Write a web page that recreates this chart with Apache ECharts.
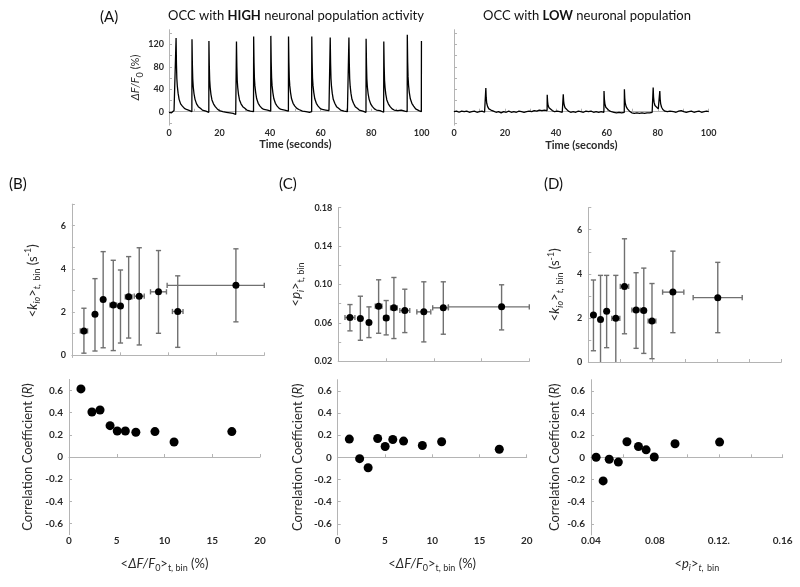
<!DOCTYPE html>
<html>
<head>
<meta charset="utf-8">
<script src="https://cdn.jsdelivr.net/npm/echarts@6/dist/echarts.min.js"></script>
<style>html,body{margin:0;padding:0;background:#fff;}#main{width:800px;height:587px;}</style>
</head>
<body>
<div id="main"></div>
<script>
// ---------------- DATA ----------------
// Panel A: calcium traces [time (s), dF/F0 (%)]
const traceHigh = [
[0,-1],[0.5,1],[1,-2],[1.5,0],[2,2],[2.4,-1],
[2.75,0],[2.8,131],[2.95,85],[3.1,59],[3.3,45],[3.6,33],[4.0,22],[4.6,14],[5.3,10],[6.1,6],[6.9,4],[7.6,5],[8.2,2],[8.7,3],
[9.05,0],[9.1,129],[9.25,84],[9.4,58],[9.6,44],[9.9,32],[10.3,22],[10.9,14],[11.6,9],[12.4,6],[13.2,3],[13.9,4],[14.6,1],[15.2,2],
[15.75,-1],[15.8,126],[15.95,82],[16.1,57],[16.3,43],[16.6,31],[17.0,21],[17.6,14],[18.3,9],[19.1,5],[19.9,2],[20.6,3],[21.3,0],[22.0,2],[22.7,-1],[23.4,1],[24.1,-2],[24.8,0],[25.4,-3],[26.0,-1],[26.4,-5],
[26.65,-2],[26.7,125],[26.85,81],[27.0,56],[27.2,43],[27.5,31],[27.9,21],[28.5,14],[29.2,9],[30.0,6],[30.8,3],[31.5,4],[32.2,1],[32.9,2],
[33.45,0],[33.5,134],[33.65,87],[33.8,60],[34.0,46],[34.3,34],[34.7,23],[35.3,15],[36.0,10],[36.8,6],[37.6,4],[38.3,2],[39.0,3],[39.7,0],
[40.25,1],[40.3,135],[40.45,88],[40.6,61],[40.8,46],[41.1,34],[41.5,23],[42.1,15],[42.8,10],[43.6,6],[44.4,4],[45.1,2],[45.8,3],[46.5,0],
[47.25,1],[47.3,134],[47.45,87],[47.6,60],[47.8,46],[48.1,34],[48.5,23],[49.1,15],[49.8,10],[50.6,6],[51.4,4],[52.1,3],[52.8,1],[53.5,2],[54.2,0],[54.9,2],[55.6,-1],[56.2,1],
[56.45,0],[56.5,134],[56.65,87],[56.8,60],[57.0,46],[57.3,34],[57.7,23],[58.3,15],[59.0,10],[59.8,6],[60.6,4],[61.3,2],[62.0,3],[62.7,0],[63.3,2],
[63.75,-1],[63.8,132],[63.95,86],[64.1,59],[64.3,45],[64.6,33],[65.0,22],[65.6,15],[66.3,9],[67.1,6],[67.9,3],[68.6,4],[69.3,1],[70.0,2],[70.6,0],
[71.15,1],[71.2,132],[71.35,86],[71.5,59],[71.7,45],[72.0,33],[72.4,22],[73.0,15],[73.7,9],[74.5,6],[75.3,3],[76.0,4],[76.7,1],[77.4,0],
[77.95,-1],[78.0,130],[78.15,85],[78.3,58],[78.5,44],[78.8,32],[79.2,22],[79.8,14],[80.5,9],[81.3,5],[82.1,3],[82.8,1],[83.5,2],[84.2,0],
[84.95,-1],[85.0,125],[85.15,81],[85.3,56],[85.5,43],[85.8,31],[86.2,21],[86.8,14],[87.5,9],[88.3,5],[89.1,3],[89.8,1],[90.5,2],[91.2,0],[91.9,3],[92.6,0],[93.3,1],[93.9,-1],
[94.25,0],[94.3,137],[94.45,89],[94.6,62],[94.8,47],[95.1,34],[95.5,23],[96.1,15],[96.8,10],[97.6,5],[98.3,3],[98.9,2],[99.4,1],[99.85,0],
[99.9,126]
];
const traceLow = [
[0,0],[1,1],[2,-1],[3,1],[4,0],[5,1],[6,-1],[7,0],[8,1],[9,-1],[10,0],[11,1],[12,-1],
[12.45,0],[12.5,42],[12.65,25],[12.85,15],[13.2,9],[13.7,5],[14.5,3],[15.5,1],[16.5,-1],[17.5,0],[18.5,-2],[19.5,0],[20.5,-1],[21.5,1],[22.5,-1],[23.5,0],[24.5,-1],[25.5,1],[26.5,0],[27.5,-1],[28.5,0],[29.5,1],[30.5,0],[31.5,2],[32.5,1],[33.5,3],[34.5,2],[35.5,3],
[36.55,2],[36.6,30],[36.75,18],[36.95,11],[37.3,7],[37.8,4],[38.6,2],[39.5,0],[40.5,1],[41.5,0],[42.5,-1],
[42.85,0],[42.9,31],[43.05,19],[43.25,12],[43.6,7],[44.1,4],[44.9,1],[45.8,-1],[46.8,0],[47.8,-1],[48.8,1],[49.8,0],[50.8,-1],[51.8,1],[52.8,0],[53.8,1],[54.8,-1],[55.8,0],[56.8,-1],[57.8,0],
[58.85,-1],[58.9,37],[59.05,22],[59.25,14],[59.6,8],[60.1,5],[60.9,2],[61.8,0],[62.8,-1],[63.8,-2],[64.8,-1],[65.8,-2],
[66.85,-1],[66.9,40],[67.05,24],[67.25,15],[67.6,9],[68.1,5],[68.9,1],[69.8,-2],[70.8,-3],[71.8,-2],[72.8,-3],[73.8,-2],[74.8,-3],[75.8,-2],[76.8,-2],[77.8,-1],
[78.15,-1],[78.2,43],[78.35,26],[78.55,17],[78.9,11],[79.4,8],[80.2,5],
[80.75,5],[80.8,37],[80.95,22],[81.15,14],[81.5,8],[82.0,4],[82.8,1],[83.8,0],[84.8,1],[85.5,4],[86.2,0],[87.2,-1],[88.2,1],[89.2,2],[90.2,0],[91.2,-1],[92.2,0],[93.2,1],[94.2,-1],[95.2,0],[96.2,1],[97.2,-1],[98.2,0],[99.2,1],[100,0]
];

// Panel B: x = <dF/F0> (%), k_io (s^-1), R
const bX    = [1.25, 2.4, 3.25, 4.3, 5.05, 5.9, 7.0, 9.0, 11.0, 17.05];
const bXlo  = [0.87, 2.4, 3.25, 3.95, 5.05, 5.55, 6.48, 8.17, 10.45, 9.9];
const bXhi  = [1.63, 2.4, 3.25, 4.65, 5.05, 6.25, 7.52, 9.83, 11.55, 20];
const bK    = [1.13, 1.9, 2.58, 2.33, 2.28, 2.71, 2.74, 2.94, 2.03, 3.24];
const bKlo  = [0.1, 0.2, 0.35, 0.22, 0.57, 0.8, 0.48, 1.02, 0.37, 1.55];
const bKhi  = [2.18, 3.55, 4.8, 4.4, 3.95, 4.57, 4.98, 4.85, 3.68, 4.93];
const bR    = [0.614, 0.406, 0.424, 0.283, 0.235, 0.235, 0.223, 0.229, 0.135, 0.229];

// Panel C: x = <dF/F0> (%), p_i, R
const cX    = [1.23, 2.32, 3.22, 4.23, 5.02, 5.83, 6.97, 8.96, 11.0, 17.1];
const cXlo  = [0.71, 2.32, 3.22, 3.88, 4.76, 5.48, 6.45, 8.23, 9.89, 11.53];
const cXhi  = [1.75, 2.32, 3.22, 4.58, 5.28, 6.18, 7.49, 9.69, 11.53, 20];
const cP    = [0.0656, 0.0645, 0.0603, 0.0774, 0.0652, 0.0757, 0.0729, 0.0715, 0.0757, 0.0767];
const cPlo  = [0.0517, 0.0419, 0.0447, 0.0492, 0.0475, 0.0437, 0.0499, 0.0402, 0.0482, 0.0527];
const cPhi  = [0.0791, 0.0878, 0.0767, 0.1049, 0.0833, 0.1073, 0.0951, 0.1028, 0.1028, 0.0997];
const cR    = [0.164, -0.012, -0.094, 0.170, 0.097, 0.161, 0.146, 0.106, 0.140, 0.073];

// Panel D: x = <p_i>, k_io (s^-1), R
const dX    = [0.0432, 0.0476, 0.0514, 0.0571, 0.0625, 0.0697, 0.0745, 0.0796, 0.0926, 0.1205];
const dXlo  = [0.0432, 0.0476, 0.0514, 0.0546, 0.0599, 0.0671, 0.0745, 0.0772, 0.0862, 0.1052];
const dXhi  = [0.0432, 0.0476, 0.0514, 0.0596, 0.0651, 0.0723, 0.0745, 0.0820, 0.0994, 0.1357];
const dK    = [2.13, 1.93, 2.30, 1.98, 3.43, 2.36, 2.34, 1.86, 3.17, 2.92];
const dKlo  = [0.51, -0.1, 0.65, -0.1, 1.28, 0.62, 0.39, 0.15, 1.33, 1.33];
const dKhi  = [3.72, 3.93, 3.93, 3.93, 5.59, 4.05, 4.26, 3.56, 5.03, 4.52];
const dR    = [0.0, -0.213, -0.018, -0.043, 0.140, 0.097, 0.067, 0.003, 0.122, 0.137];

// Tick labels
const traceYLabels = [0, 40, 80, 120];
const traceXLabels = [0, 20, 40, 60, 80, 100];
const kLabels = [0, 2, 4, 6];
const pLabels = [0.02, 0.06, 0.10, 0.14, 0.18];
const rLabels = [-0.6, -0.4, -0.2, 0, 0.2, 0.4, 0.6];
const fLabels = [0, 5, 10, 15, 20];
const piLabelValues = [0.04, 0.08, 0.12, 0.16];
const piLabelTexts  = ['0.04', '0.08', '0.12.', '0.16'];

// ---------------- CHART ----------------
const FONT = 'Lato, "Open Sans", sans-serif';
const AX = '#b4b4b4';
const TXT = '#2a2a2a';
const chart = echarts.init(document.getElementById('main'));

const rich = {
  i:   {fontStyle: 'italic', fontSize: 13, fontFamily: FONT, color: TXT, lineHeight: 18},
  sub: {fontSize: 9, fontFamily: FONT, color: TXT, verticalAlign: 'bottom', lineHeight: 10},
  isub:{fontSize: 9, fontStyle: 'italic', fontFamily: FONT, color: TXT, verticalAlign: 'bottom', lineHeight: 10},
  sup: {fontSize: 9, fontFamily: FONT, color: TXT, verticalAlign: 'top', lineHeight: 10}
};
function nameStyle(size, extra) {
  const r = JSON.parse(JSON.stringify(rich));
  r.i.fontSize = size;
  return Object.assign({fontSize: size, fontFamily: FONT, color: TXT, lineHeight: 18, rich: r}, extra || {});
}

const grids = [
  {left: 169, top: 29.7, width: 252.7, height: 95.5},   // A left
  {left: 454, top: 29.7, width: 254.7, height: 95.5},   // A right
  {left: 71.9, top: 204.1, width: 192.4, height: 153.4},// B top
  {left: 69, top: 379.4, width: 191, height: 155.2},    // B bottom
  {left: 338.2, top: 207.7, width: 191.1, height: 153.6},// C top
  {left: 337.7, top: 379.7, width: 189, height: 155.2}, // C bottom
  {left: 588.3, top: 207.7, width: 193, height: 154.3}, // D top
  {left: 591, top: 379.7, width: 191.7, height: 155.2}  // D bottom
].map(g => Object.assign({outerBoundsMode: 'none', containLabel: false}, g));

function rng(a, b, s) { const out = []; for (let v = a; v <= b + 1e-9; v += s) out.push(+v.toFixed(6)); return out; }

function axis(o) {
  return {
    type: 'value', gridIndex: o.grid, min: o.min, max: o.max,
    name: o.name || '', nameLocation: 'middle', nameGap: o.nameGap || 20,
    nameTextStyle: o.nameStyle,
    axisLine: {show: true, lineStyle: {color: AX, width: 1}},
    axisTick: {show: true, inside: true, length: 3, lineStyle: {color: AX}, customValues: o.ticks},
    axisLabel: {show: !!o.labels, customValues: o.labels || [], margin: o.margin || 4,
      fontSize: o.fontSize || 9, fontFamily: FONT, color: TXT, fontWeight: 'bold',
      formatter: o.fmt},
    splitLine: {show: false}
  };
}
const fmtR = v => (Math.abs(v) < 1e-9 ? '0' : (+v).toFixed(1));
const fmtPi = v => { const k = piLabelValues.findIndex(p => Math.abs(p - v) < 1e-9); return k >= 0 ? piLabelTexts[k] : ''; };

const xAxes = [
  axis({grid: 0, min: 0, max: 100, ticks: rng(0, 100, 10), labels: traceXLabels, margin: 3,
        name: 'Time (seconds)', nameGap: 14, nameStyle: {fontSize: 11, fontFamily: FONT, color: TXT, fontWeight: 'bold'}}),
  axis({grid: 1, min: 0, max: 100, ticks: rng(0, 100, 10), labels: traceXLabels, margin: 3,
        name: 'Time (seconds)', nameGap: 15, nameStyle: {fontSize: 11, fontFamily: FONT, color: TXT, fontWeight: 'bold'}}),
  axis({grid: 2, min: 0, max: 20, ticks: [5, 10, 15, 20]}),
  axis({grid: 3, min: 0, max: 20, ticks: fLabels, labels: fLabels, fontSize: 10, margin: 1,
        name: '<{i|ΔF/F}{sub|0}>{sub|t, bin} (%)', nameGap: 20, nameStyle: nameStyle(13)}),
  axis({grid: 4, min: 0, max: 20, ticks: [5, 10, 15, 20]}),
  axis({grid: 5, min: 0, max: 20, ticks: fLabels, labels: fLabels, fontSize: 10, margin: 1,
        name: '<{i|ΔF/F}{sub|0}>{sub|t, bin} (%)', nameGap: 20, nameStyle: nameStyle(13)}),
  axis({grid: 6, min: 0.04, max: 0.16, ticks: rng(0.06, 0.16, 0.02)}),
  axis({grid: 7, min: 0.04, max: 0.16, ticks: rng(0.04, 0.16, 0.02), labels: piLabelValues, fmt: fmtPi, fontSize: 10, margin: 1,
        name: '<{i|p}{isub|i}>{isub|t,} {sub|bin}', nameGap: 20, nameStyle: nameStyle(13, {padding: [0, 0, 0, 20]})})
];
const yAxes = [
  axis({grid: 0, min: -24, max: 146, ticks: rng(-20, 140, 20), labels: traceYLabels, margin: 5,
        name: '{i|ΔF/F}{sub|0} (%)', nameGap: 17, nameStyle: nameStyle(11)}),
  axis({grid: 1, min: -24, max: 146, ticks: rng(-20, 140, 20)}),
  axis({grid: 2, min: -0.1, max: 7, ticks: rng(0, 7, 1), labels: kLabels, margin: 6,
        name: '<{i|k}{isub|io}>{isub|t,} {sub|bin} (s{sup|-1})', nameGap: 30, nameStyle: nameStyle(13)}),
  axis({grid: 3, min: -0.7, max: 0.7, ticks: rLabels, labels: rLabels, fmt: fmtR, fontSize: 10, margin: 6,
        name: 'Correlation Coefficient ({i|R})', nameGap: 32, nameStyle: nameStyle(13)}),
  axis({grid: 4, min: 0.02, max: 0.18, ticks: rng(0.02, 0.18, 0.02), labels: pLabels, fmt: v => (+v).toFixed(2), margin: 6,
        name: '<{i|p}{isub|i}>{sub|t, bin}', nameGap: 33, nameStyle: nameStyle(13)}),
  axis({grid: 5, min: -0.7, max: 0.7, ticks: rLabels, labels: rLabels, fmt: fmtR, fontSize: 10, margin: 6,
        name: 'Correlation Coefficient ({i|R})', nameGap: 31, nameStyle: nameStyle(13)}),
  axis({grid: 6, min: 0, max: 7, ticks: rng(0, 7, 1), labels: kLabels, margin: 6,
        name: '<{i|k}{isub|io}>{isub|t,} {sub|bin} (s{sup|-1})', nameGap: 24, nameStyle: nameStyle(13)}),
  axis({grid: 7, min: -0.7, max: 0.7, ticks: rLabels, labels: rLabels, fmt: fmtR, fontSize: 10, margin: 6,
        name: 'Correlation Coefficient ({i|R})', nameGap: 24, nameStyle: nameStyle(13)})
];

const ERR = {stroke: '#707070', lineWidth: 1.4};
function errRender(params, api) {
  const x = api.value(0), y = api.value(1), ylo = api.value(2), yhi = api.value(3), xlo = api.value(4), xhi = api.value(5);
  const cs = params.coordSys;
  const c = api.coord([x, y]);
  const clY = v => Math.max(cs.y, Math.min(cs.y + cs.height, v));
  const clX = v => Math.max(cs.x, Math.min(cs.x + cs.width, v));
  const ch = [];
  const a = api.coord([x, ylo])[1], b = api.coord([x, yhi])[1];
  const ac = clY(a), bc = clY(b), w = 2.6;
  ch.push({type: 'line', shape: {x1: c[0], y1: ac, x2: c[0], y2: bc}, style: ERR});
  if (Math.abs(ac - a) < 0.01) ch.push({type: 'line', shape: {x1: c[0] - w, y1: a, x2: c[0] + w, y2: a}, style: ERR});
  if (Math.abs(bc - b) < 0.01) ch.push({type: 'line', shape: {x1: c[0] - w, y1: b, x2: c[0] + w, y2: b}, style: ERR});
  if (xhi > xlo) {
    const l = api.coord([xlo, y])[0], r = api.coord([xhi, y])[0];
    const lc = clX(l), rc = clX(r);
    ch.push({type: 'line', shape: {x1: lc, y1: c[1], x2: rc, y2: c[1]}, style: ERR});
    ch.push({type: 'line', shape: {x1: lc, y1: c[1] - w, x2: lc, y2: c[1] + w}, style: ERR});
    if (Math.abs(rc - r) < 0.01) ch.push({type: 'line', shape: {x1: rc, y1: c[1] - w, x2: rc, y2: c[1] + w}, style: ERR});
  }
  return {type: 'group', children: ch};
}
const rows = (X, Y, Ylo, Yhi, Xlo, Xhi) => X.map((x, i) => [x, Y[i], Ylo[i], Yhi[i], Xlo[i], Xhi[i]]);
const pts = (X, Y) => X.map((x, i) => [x, Y[i]]);
const errSeries = (idx, data) => ({type: 'custom', xAxisIndex: idx, yAxisIndex: idx, renderItem: errRender, data: data, z: 2, silent: true, animation: false});
const dotSeries = (idx, data, size) => ({type: 'scatter', xAxisIndex: idx, yAxisIndex: idx, data: data, symbolSize: size, itemStyle: {color: '#000', opacity: 1}, z: 3, animation: false});

const panelText = (t, x, y, size) => ({type: 'text', x: x, y: y, style: {text: t, fill: '#111', font: size + 'px ' + FONT, textAlign: 'left', textVerticalAlign: 'middle'}});

const option = {
  backgroundColor: '#fff',
  animation: false,
  grid: grids,
  xAxis: xAxes,
  yAxis: yAxes,
  graphic: [
    panelText('(A)', 100, 17, 15),
    panelText('(B)', 9, 184, 15),
    panelText('(C)', 279, 184, 15),
    panelText('(D)', 544, 184, 15),
    {type: 'text', x: 296, y: 16, style: {text: 'OCC with {b|HIGH} neuronal population activity', fill: '#111', font: '13px ' + FONT,
      textAlign: 'center', textVerticalAlign: 'middle', rich: {b: {fontWeight: 'bold', fontSize: 13, fontFamily: FONT, fill: '#111'}}}},
    {type: 'text', x: 587, y: 16, style: {text: 'OCC with {b|LOW} neuronal population', fill: '#111', font: '13px ' + FONT,
      textAlign: 'center', textVerticalAlign: 'middle', rich: {b: {fontWeight: 'bold', fontSize: 13, fontFamily: FONT, fill: '#111'}}}}
  ],
  series: [
    {type: 'line', xAxisIndex: 0, yAxisIndex: 0, data: traceHigh, showSymbol: false, lineStyle: {color: '#000', width: 1.3}, animation: false},
    {type: 'line', xAxisIndex: 1, yAxisIndex: 1, data: traceLow, showSymbol: false, lineStyle: {color: '#000', width: 1.3}, animation: false},
    errSeries(2, rows(bX, bK, bKlo, bKhi, bXlo, bXhi)),
    dotSeries(2, pts(bX, bK), 7),
    dotSeries(3, pts(bX, bR), 9),
    errSeries(4, rows(cX, cP, cPlo, cPhi, cXlo, cXhi)),
    dotSeries(4, pts(cX, cP), 7),
    dotSeries(5, pts(cX, cR), 9),
    errSeries(6, rows(dX, dK, dKlo, dKhi, dXlo, dXhi)),
    dotSeries(6, pts(dX, dK), 7),
    dotSeries(7, pts(dX, dR), 9)
  ]
};
chart.setOption(option);
</script>
</body>
</html>
